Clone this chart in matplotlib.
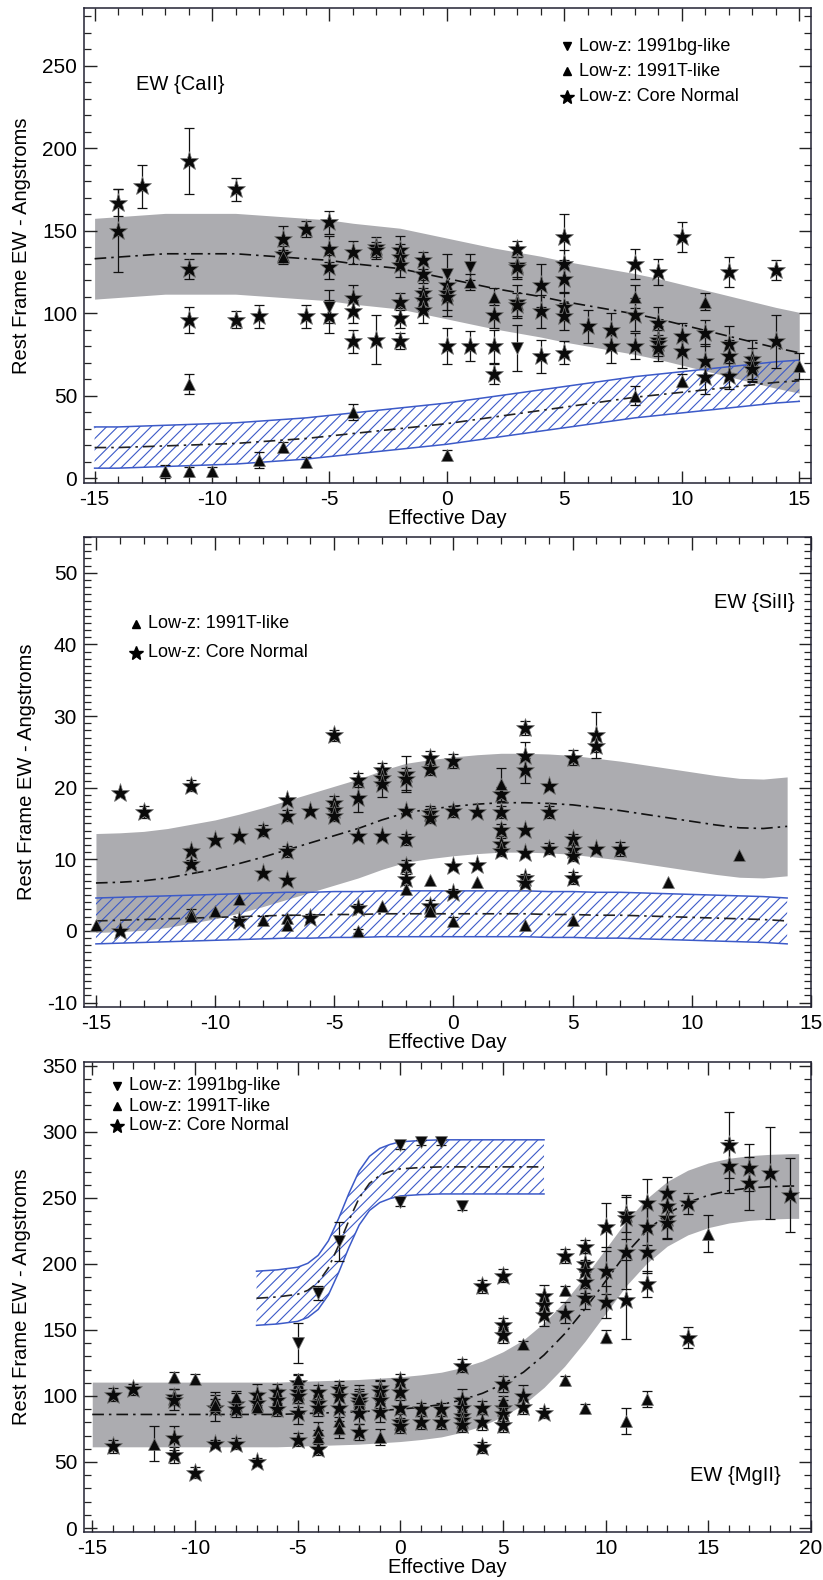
import numpy as np
import matplotlib
matplotlib.use("Agg")
import matplotlib.pyplot as plt
from matplotlib.ticker import MultipleLocator

plt.rcParams['font.family'] = ['Liberation Sans', 'DejaVu Sans']
plt.rcParams['hatch.linewidth'] = 0.8
plt.rcParams['axes.unicode_minus'] = False

GRAY = '#acacb0'
BLUE = '#3c5ac8'

# ---------------- CaII ----------------
# (day, EW, err)
ca_core = [
    (-14, 167, 8), (-14, 150, 25), (-13, 177, 13), (-11, 192, 20), (-11, 127, 6), (-11, 96, 8),
    (-9, 175, 7), (-9, 96, 5), (-8, 98, 7), (-7, 145, 8), (-7, 136, 5), (-6, 151, 5), (-6, 98, 7),
    (-5, 155, 7), (-5, 139, 8), (-5, 128, 7), (-5, 98, 10), (-4, 137, 7), (-4, 109, 8), (-4, 101, 7),
    (-4, 83, 7), (-3, 140, 6), (-3, 138, 5), (-3, 84, 15), (-2, 138, 9), (-2, 134, 8), (-2, 129, 7),
    (-2, 107, 5), (-2, 97, 6), (-2, 83, 5), (-1, 132, 5), (-1, 124, 6), (-1, 112, 8), (-1, 108, 7),
    (-1, 102, 8), (0, 117, 10), (0, 112, 14), (0, 110, 8), (0, 80, 11), (1, 80, 9), (2, 99, 8),
    (2, 80, 10), (2, 63, 6), (3, 139, 5), (3, 129, 8), (3, 128, 6), (3, 107, 10), (3, 105, 7),
    (4, 117, 13), (4, 101, 10), (4, 74, 10), (5, 146, 14), (5, 130, 8), (5, 121, 8), (5, 104, 8),
    (5, 98, 8), (5, 76, 7), (6, 92, 10), (7, 90, 10), (7, 80, 10), (8, 130, 9), (8, 99, 10),
    (8, 80, 8), (9, 125, 8), (9, 94, 10), (9, 84, 8), (9, 82, 8), (9, 79, 8), (10, 146, 9),
    (10, 86, 8), (10, 77, 10), (11, 88, 8), (11, 71, 10), (11, 61, 10), (12, 125, 9), (12, 81, 11),
    (12, 74, 10), (12, 62, 8), (13, 72, 12), (13, 69, 10), (13, 66, 8), (14, 126, 6), (14, 83, 16),
]
ca_91t = [
    (-12, 4, 4), (-11, 57, 6), (-11, 4, 3), (-10, 4, 3), (-8, 11, 5), (-7, 19, 3), (-7, 134, 4),
    (-6, 10, 3), (-4, 40, 5), (0, 14, 3), (1, 119, 5), (2, 110, 5), (8, 110, 7), (8, 50, 6),
    (10, 59, 4), (11, 107, 5), (15, 68, 8),
]
ca_91bg = [(-5, 104, 10), (0, 124, 12), (1, 128, 8), (3, 79, 14)]

ca_fit_day = list(range(-15, 16))
ca_fit_mid = [133, 134, 135, 136, 136, 136, 136, 135, 134, 133, 132, 130, 128.5, 127, 124, 121,
              118, 115, 112.5, 110, 107, 104.5, 102, 99.5, 96.5, 93, 89.5, 86, 82.5, 79, 76]
ca_fit_hw = 24.5
ca_t_fit_mid = [18.5, 18.5, 19, 19.5, 20, 20.5, 21, 22, 23, 24, 25.5, 27, 28.5, 30, 31.5, 33,
                35, 37, 39, 41, 43, 45, 47, 49, 50.5, 52, 53.5, 55, 56.5, 58, 59]
ca_t_fit_hw = 12.5

# ---------------- SiII ----------------
si_core = [
    (-14, 19.2, 0), (-14, 0, 0), (-13, 16.6, 0.8), (-11, 20.3, 0.8), (-11, 11.1, 0.5), (-11, 9.4, 0.5),
    (-10, 12.7, 0), (-9, 13.2, 0), (-9, 1.4, 0.5), (-8, 14.0, 0.8), (-8, 8.1, 0), (-7, 18.3, 0),
    (-7, 16.1, 0.8), (-7, 11.1, 0.8), (-7, 7.1, 0), (-6, 16.7, 0), (-6, 1.8, 0.6), (-5, 27.3, 0.8),
    (-5, 17.8, 1.0), (-5, 16.9, 0.8), (-5, 16.1, 0.8), (-4, 21.1, 1.0), (-4, 18.6, 2.0), (-4, 13.2, 0),
    (-4, 3.2, 0.5), (-3, 22.4, 1.0), (-3, 21.4, 1.0), (-3, 20.5, 1.8), (-3, 13.2, 0), (-2, 21.9, 2.5),
    (-2, 21.2, 1.5), (-2, 16.7, 0), (-2, 12.8, 0.8), (-2, 9.1, 0.8), (-2, 7.2, 0.8), (-1, 24.1, 1.0),
    (-1, 22.6, 0.8), (-1, 16.4, 1.0), (-1, 15.7, 0.6), (-1, 3.5, 0.8), (0, 23.7, 1.0), (0, 16.7, 0.8),
    (0, 9.0, 0), (0, 5.3, 0.5), (1, 16.6, 0), (1, 9.2, 0), (2, 19.1, 1.0), (2, 16.6, 0.8),
    (2, 14.1, 0.8), (2, 12.2, 0.8), (2, 11.1, 0.6), (3, 28.3, 1.0), (3, 24.4, 2.0), (3, 22.4, 1.8),
    (3, 14.1, 0), (3, 10.9, 0), (3, 7.4, 0.6), (3, 6.7, 0.6), (4, 20.3, 0), (4, 16.6, 0.8),
    (4, 11.5, 0.8), (5, 24.2, 1.0), (5, 12.8, 0.8), (5, 11.3, 0.8), (5, 10.4, 0.6), (5, 7.4, 0.8),
    (6, 27.4, 3.2), (6, 25.8, 0.8), (6, 11.5, 0), (7, 11.4, 1.0),
]
si_91t = [
    (-15, 0.9, 0), (-11, 2.5, 0.5), (-11, 2.1, 0), (-10, 2.8, 0), (-9, 4.4, 0), (-8, 1.6, 0.5),
    (-7, 1.8, 0.5), (-7, 0.9, 0), (-4, 0, 0.3), (-3, 3.5, 0), (-2, 5.8, 0), (-1, 7.1, 0),
    (-1, 2.8, 0.5), (0, 1.4, 0.6), (1, 6.9, 0), (2, 20.5, 2.3), (3, 0.9, 0), (5, 1.6, 0),
    (9, 6.8, 0), (12, 10.6, 0),
]

si_fit_day = list(range(-15, 15))
si_fit_mid = [6.7, 6.8, 7.0, 7.4, 8.0, 8.6, 9.4, 10.3, 11.3, 12.3, 13.3, 14.3, 15.5, 16.5, 17.0,
              17.4, 17.7, 17.9, 17.9, 17.8, 17.6, 17.2, 16.8, 16.3, 15.8, 15.3, 14.8, 14.4, 14.3, 14.6]
si_fit_hw = 6.9
si_t_fit_mid = [1.4, 1.5, 1.6, 1.7, 1.8, 1.9, 2.0, 2.1, 2.2, 2.2, 2.3, 2.3, 2.4, 2.4, 2.4,
                2.4, 2.4, 2.4, 2.4, 2.3, 2.3, 2.2, 2.2, 2.1, 2.0, 1.9, 1.8, 1.7, 1.6, 1.4]
si_t_fit_hw = 3.2

# ---------------- MgII ----------------
mg_core = [
    (-14, 101, 5), (-14, 62, 5), (-13, 105, 4), (-11, 99, 6), (-11, 97, 8), (-11, 68, 9), (-11, 55, 6),
    (-10, 42, 4), (-9, 91, 10), (-9, 64, 3), (-8, 94, 8), (-8, 90, 6), (-8, 64, 4), (-7, 101, 8),
    (-7, 95, 8), (-7, 50, 3), (-6, 103, 6), (-6, 97, 8), (-6, 90, 5), (-5, 110, 6), (-5, 103, 8),
    (-5, 100, 8), (-5, 87, 8), (-5, 67, 5), (-4, 103, 5), (-4, 95, 6), (-4, 91, 6), (-4, 60, 5),
    (-3, 105, 6), (-3, 100, 8), (-3, 91, 10), (-2, 100, 8), (-2, 97, 8), (-2, 95, 6), (-2, 87, 8),
    (-2, 73, 6), (-1, 106, 6), (-1, 103, 8), (-1, 97, 6), (-1, 88, 8), (0, 111, 6), (0, 103, 6),
    (0, 91, 8), (0, 80, 6), (0, 77, 5), (1, 90, 5), (1, 80, 5), (2, 90, 5), (2, 80, 5), (3, 123, 5),
    (3, 97, 8), (3, 91, 8), (3, 85, 6), (3, 82, 6), (3, 78, 5), (4, 183, 5), (4, 91, 5), (4, 80, 6),
    (4, 61, 4), (5, 191, 5), (5, 154, 5), (5, 146, 6), (5, 109, 6), (5, 91, 6), (5, 86, 5), (5, 78, 5),
    (6, 100, 8), (6, 92, 6), (7, 176, 8), (7, 169, 8), (7, 161, 8), (7, 87, 4), (8, 206, 5),
    (8, 163, 8), (9, 213, 5), (9, 200, 8), (9, 195, 8), (9, 186, 8), (9, 174, 8), (10, 228, 18),
    (10, 195, 18), (10, 171, 12), (11, 238, 14), (11, 235, 16), (11, 209, 28), (11, 173, 30),
    (12, 246, 18), (12, 228, 14), (12, 209, 16), (12, 185, 10), (13, 254, 12), (13, 244, 10),
    (13, 235, 15), (13, 231, 12), (14, 246, 8), (14, 144, 8), (16, 290, 25), (16, 274, 20),
    (17, 273, 18), (17, 261, 20), (18, 269, 35), (19, 252, 28),
]
mg_91t = [
    (-12, 64, 13), (-11, 114, 4), (-10, 113, 4), (-9, 97, 6), (-9, 93, 5), (-8, 99, 5), (-7, 92, 5),
    (-5, 113, 4), (-4, 74, 6), (-4, 69, 5), (-3, 81, 10), (-3, 76, 8), (-2, 98, 6), (-1, 69, 6),
    (5, 96, 4), (6, 139, 3), (8, 180, 3), (8, 112, 3), (9, 91, 3), (10, 145, 5), (11, 81, 10),
    (12, 98, 6), (15, 223, 14),
]
mg_91bg = [(-5, 140, 15), (-4, 178, 5), (-3, 217, 15), (0, 290, 3), (0, 247, 3), (1, 292, 2),
           (2, 292, 2), (3, 244, 3)]

mg_fit_day = list(range(-15, 20)) + [19.4]
mg_fit_mid = [86, 86, 86, 86, 86, 86, 86, 86, 86, 86, 86.5, 87, 87.5, 88, 89, 90, 91.5, 93.5, 97,
              102, 109, 118, 131, 147, 166, 187, 208, 225, 238, 246.5, 252, 255.5, 257.5, 258.5,
              259, 259]
mg_fit_hw = 24.5
mg_bg_fit_day = [-7, -6, -5, -4.5, -4, -3.5, -3, -2.5, -2, -1.5, -1, -0.5, 0, 1, 2, 3, 4, 5, 6, 7]
mg_bg_fit_mid = [174, 175, 177, 180, 186, 197, 214, 233, 250, 261, 267, 270, 272, 273, 273.5,
                 273.5, 273.5, 273.5, 273.5, 273.5]
mg_bg_fit_hw = 20.5


def gray_band(ax, day, mid, hw):
    day = np.array(day)
    mid = np.array(mid)
    ax.fill_between(day, mid - hw, mid + hw, color=GRAY, lw=0, zorder=1)
    ax.plot(day, mid, color='#111111', lw=1.2, ls=(0, (7, 3, 1.5, 3)), zorder=3)


def hatch_band(ax, day, mid, hw):
    day = np.array(day)
    mid = np.array(mid)
    ax.fill_between(day, mid - hw, mid + hw, facecolor='none', edgecolor=BLUE,
                    hatch='///', lw=0, zorder=2)
    ax.plot(day, mid - hw, color=BLUE, lw=1.1, zorder=2)
    ax.plot(day, mid + hw, color=BLUE, lw=1.1, zorder=2)
    ax.plot(day, mid, color='#222222', lw=1.2, ls=(0, (7, 3, 1.5, 3)), zorder=3)


def scatter(ax, points, marker, ms):
    d, v, e = np.array(points, dtype=float).T
    keep = e > 0
    ax.errorbar(d[keep], v[keep], yerr=e[keep], fmt='none', ecolor='#111111',
                elinewidth=0.9, capsize=3.5, capthick=0.9, zorder=4)
    ax.plot(d, v, ls='none', marker=marker, ms=ms, mfc='#0a0a0a', mec='#777777',
            mew=0.5, zorder=5)


MARKERS = {'bg': ('v', 8.5), 't': ('^', 8), 'core': ('*', 14)}
LABELS = {'bg': 'Low-z: 1991bg-like', 't': 'Low-z: 1991T-like', 'core': 'Low-z: Core Normal'}


def legend(ax, keys, x, ys):
    for k, y in zip(keys, ys):
        m, ms = MARKERS[k]
        ax.plot([x], [y], marker=m, ms=ms * 0.75, color='k', ls='none',
                transform=ax.transAxes, clip_on=False, zorder=6)
        ax.text(x + 0.017, y, LABELS[k], transform=ax.transAxes, va='center',
                ha='left', fontsize=13)


def style(ax, xlim, ylim, xmaj, ymaj, ymin):
    ax.set_xlim(*xlim)
    ax.set_ylim(*ylim)
    ax.xaxis.set_major_locator(MultipleLocator(xmaj))
    ax.xaxis.set_minor_locator(MultipleLocator(1))
    ax.yaxis.set_major_locator(MultipleLocator(ymaj))
    ax.yaxis.set_minor_locator(MultipleLocator(ymin))
    ax.tick_params(which='both', direction='in', top=True, right=True, labelsize=15,
                   color='#222222', pad=5)
    ax.tick_params(which='major', length=9, width=1)
    ax.tick_params(which='minor', length=5, width=0.9)
    for s in ax.spines.values():
        s.set_linewidth(1.1)
        s.set_color('#222233')
    ax.set_xlabel('Effective Day', fontsize=14.5, labelpad=0)
    ax.set_ylabel('Rest Frame EW - Angstroms', fontsize=14.5, labelpad=8)


def main():
    fig = plt.figure(figsize=(8.23, 15.8), dpi=100)
    left, width = 0.1021, 0.8833

    ax1 = fig.add_axes([left, 0.6943, width, 0.3006])
    gray_band(ax1, ca_fit_day, ca_fit_mid, ca_fit_hw)
    hatch_band(ax1, ca_fit_day, ca_t_fit_mid, ca_t_fit_hw)
    scatter(ax1, ca_core, *MARKERS['core'])
    scatter(ax1, ca_91t, *MARKERS['t'])
    scatter(ax1, ca_91bg, *MARKERS['bg'])
    style(ax1, (-15.45, 15.5), (-3, 285), 5, 50, 10)
    legend(ax1, ['bg', 't', 'core'], 0.664, [0.92, 0.867, 0.813])
    ax1.text(0.072, 0.838, 'EW {CaII}', transform=ax1.transAxes, fontsize=14.5, va='center')

    ax2 = fig.add_axes([left, 0.3627, width, 0.2975])
    gray_band(ax2, si_fit_day, si_fit_mid, si_fit_hw)
    hatch_band(ax2, si_fit_day, si_t_fit_mid, si_t_fit_hw)
    scatter(ax2, si_core, *MARKERS['core'])
    scatter(ax2, si_91t, *MARKERS['t'])
    style(ax2, (-15.5, 15.0), (-10.6, 55), 5, 10, 1)
    legend(ax2, ['t', 'core'], 0.0715, [0.815, 0.754])
    ax2.text(0.977, 0.86, 'EW {SiII}', transform=ax2.transAxes, fontsize=14.5,
             va='center', ha='right')

    ax3 = fig.add_axes([left, 0.0304, width, 0.2975])
    gray_band(ax3, mg_fit_day, mg_fit_mid, mg_fit_hw)
    hatch_band(ax3, mg_bg_fit_day, mg_bg_fit_mid, mg_bg_fit_hw)
    scatter(ax3, mg_core, *MARKERS['core'])
    scatter(ax3, mg_91t, *MARKERS['t'])
    scatter(ax3, mg_91bg, *MARKERS['bg'])
    style(ax3, (-15.4, 20.0), (-3, 353), 5, 50, 10)
    legend(ax3, ['bg', 't', 'core'], 0.045, [0.949, 0.906, 0.864])
    ax3.text(0.959, 0.121, 'EW {MgII}', transform=ax3.transAxes, fontsize=14.5,
             va='center', ha='right')

    fig.savefig('out.png', dpi=100)


if __name__ == "__main__":
    main()
